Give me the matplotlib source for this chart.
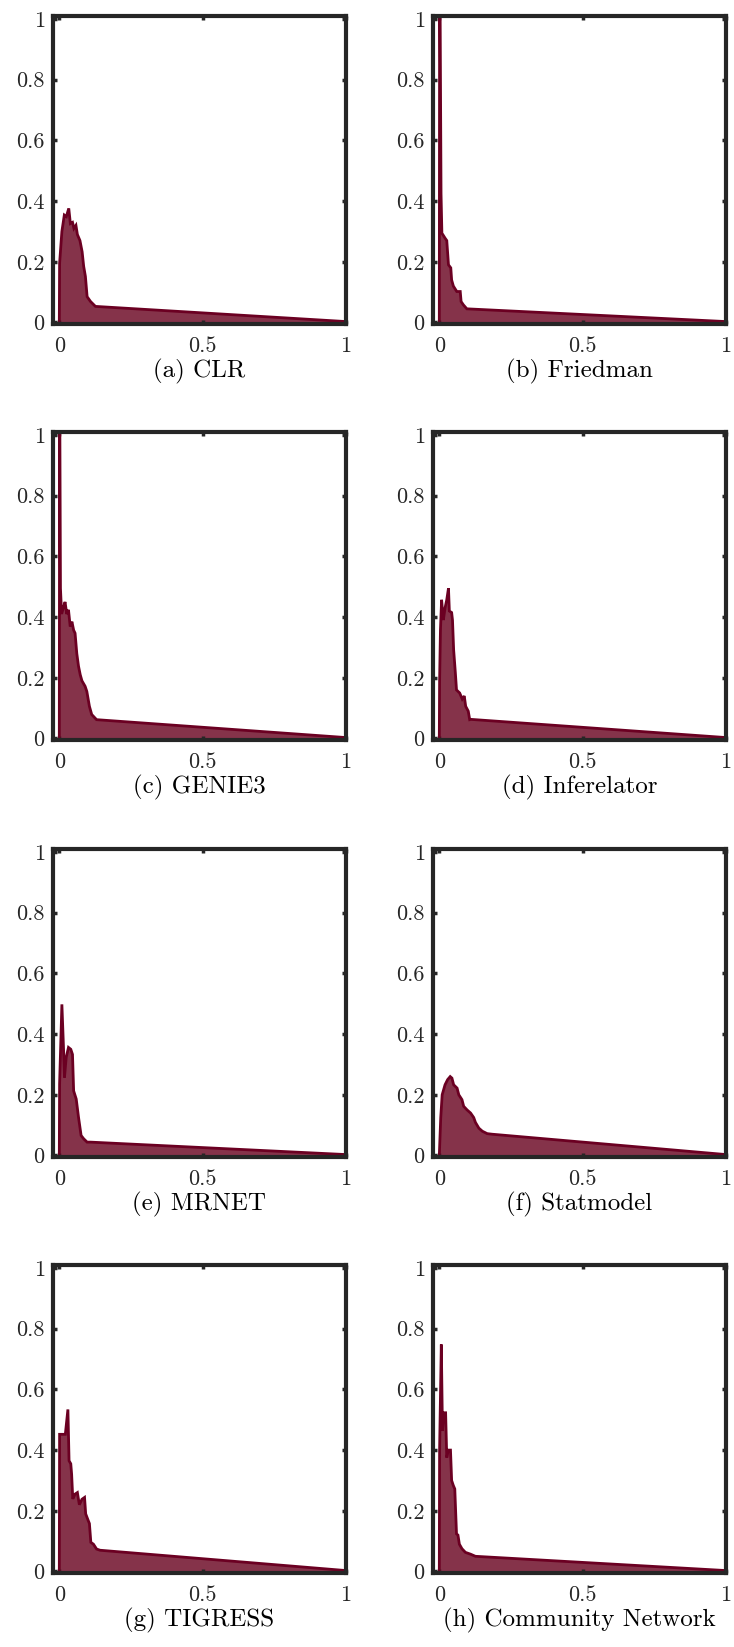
import matplotlib
matplotlib.use("Agg")
import matplotlib.pyplot as plt

plt.rcParams['font.family'] = ['cmr10', 'DejaVu Serif']
plt.rcParams['axes.formatter.use_mathtext'] = True

titles = ["(a) CLR", "(b) Friedman", "(c) GENIE3", "(d) Inferelator",
          "(e) MRNET", "(f) Statmodel", "(g) TIGRESS", "(h) Community Network"]

recall_clr = [0.0, 0.001, 0.009, 0.0175, 0.0245, 0.033, 0.0386, 0.046, 0.051, 0.058, 0.063,
              0.072, 0.0796, 0.085, 0.091, 0.097, 0.109, 0.126, 1.0]
prec_clr = [0.0, 0.195, 0.30, 0.354, 0.349, 0.376, 0.326, 0.33, 0.31, 0.32, 0.29,
            0.27, 0.233, 0.185, 0.152, 0.085, 0.069, 0.053, 0.003]

recall_friedman = [0.0, 0.001, 0.003, 0.006, 0.009, 0.012, 0.02, 0.026, 0.029, 0.032, 0.04,
                   0.043, 0.049, 0.061, 0.073, 0.076, 0.084, 0.096, 1.0]
prec_friedman = [0.0, 1.0, 1.0, 0.425, 0.294, 0.29, 0.278, 0.27, 0.23, 0.19, 0.18,
                 0.14, 0.12, 0.102, 0.102, 0.069, 0.058, 0.045, 0.003]

recall_genie3 = [0.0, 0.001, 0.002, 0.004, 0.008, 0.014, 0.02, 0.026, 0.032, 0.038, 0.044,
                 0.05, 0.055, 0.061, 0.067, 0.073, 0.079, 0.09, 0.096, 0.105, 0.113, 0.13, 1.0]
prec_genie3 = [0.0, 1.0, 1.0, 0.495, 0.41, 0.43, 0.45, 0.41, 0.424, 0.369, 0.385,
               0.357, 0.347, 0.28, 0.238, 0.21, 0.19, 0.172, 0.155, 0.106, 0.079, 0.062, 0.003]

recall_inferelator = [0.0, 0.001, 0.004, 0.008, 0.014, 0.02, 0.026, 0.032, 0.035, 0.043, 0.046,
                      0.05, 0.056, 0.06, 0.071, 0.08, 0.087, 0.092, 0.101, 0.106, 0.11, 1.0]
prec_inferelator = [0.0, 0.19, 0.358, 0.457, 0.39, 0.43, 0.457, 0.495, 0.42, 0.415, 0.39,
                    0.292, 0.216, 0.16, 0.15, 0.13, 0.14, 0.106, 0.09, 0.062, 0.063, 0.003]

recall_mrnet = [0.0, 0.001, 0.009, 0.015, 0.018, 0.024, 0.032, 0.04, 0.046, 0.05, 0.059,
                0.067, 0.076, 0.085, 0.097, 0.109, 1.0]
prec_mrnet = [0.0, 0.236, 0.498, 0.345, 0.257, 0.323, 0.356, 0.35, 0.333, 0.213, 0.186,
              0.126, 0.066, 0.055, 0.044, 0.044, 0.003]

recall_statmodel = [0.0, 0.005, 0.01, 0.02, 0.029, 0.038, 0.044, 0.05, 0.062, 0.068, 0.079,
                    0.085, 0.097, 0.109, 0.12, 0.126, 0.138, 0.15, 0.167, 0.185, 1.0]
prec_statmodel = [0.0, 0.125, 0.2, 0.233, 0.25, 0.26, 0.255, 0.233, 0.222, 0.2, 0.184,
                  0.162, 0.15, 0.14, 0.125, 0.109, 0.09, 0.08, 0.072, 0.07, 0.003]

recall_tigress = [0.0, 0.001, 0.021, 0.03, 0.034, 0.04, 0.043, 0.047, 0.055, 0.063, 0.07,
                  0.079, 0.088, 0.092, 0.1, 0.105, 0.11, 0.119, 0.13, 0.142, 1.0]
prec_tigress = [0.0, 0.452, 0.452, 0.534, 0.365, 0.355, 0.32, 0.239, 0.255, 0.26, 0.22,
                0.238, 0.244, 0.19, 0.17, 0.158, 0.096, 0.09, 0.074, 0.07, 0.003]

recall_community = [0.0, 0.001, 0.007, 0.011, 0.016, 0.022, 0.026, 0.031, 0.039, 0.043, 0.049,
                    0.054, 0.056, 0.06, 0.065, 0.07, 0.079, 0.091, 0.109, 0.126, 1.0]
prec_community = [0.0, 0.4, 0.748, 0.463, 0.523, 0.523, 0.375, 0.40, 0.40, 0.3, 0.283,
                  0.272, 0.222, 0.124, 0.12, 0.09, 0.075, 0.063, 0.057, 0.05, 0.003]

series = [(recall_clr, prec_clr), (recall_friedman, prec_friedman),
          (recall_genie3, prec_genie3), (recall_inferelator, prec_inferelator),
          (recall_mrnet, prec_mrnet), (recall_statmodel, prec_statmodel),
          (recall_tigress, prec_tigress), (recall_community, prec_community)]

xticks = [0, 0.5, 1]
xticklabels = ["0", "0.5", "1"]
yticks = [0, 0.2, 0.4, 0.6, 0.8, 1]
yticklabels = ["0", "0.2", "0.4", "0.6", "0.8", "1"]

W, H = 734, 1647
fig = plt.figure(figsize=(W / 100, H / 100), dpi=100)

col_left = [53, 433]
ax_w = 293
row_top = [16, 432, 849, 1265]
ax_h = 308

fill_color = "#85334A"
line_color = "#6B0022"
spine_color = "#262626"

for i, (rec, prec) in enumerate(series):
    r, c = divmod(i, 2)
    left = col_left[c] / W
    bottom = 1 - (row_top[r] + ax_h) / H
    ax = fig.add_axes([left, bottom, ax_w / W, ax_h / H])
    ax.fill_between(rec, prec, 0, color=fill_color, linewidth=0)
    ax.plot(rec, prec, color=line_color, linewidth=2.0, solid_joinstyle='miter')
    ax.set_xlim(-0.022, 1.0)
    ax.set_ylim(-0.005, 1.01)
    ax.set_xticks(xticks)
    ax.set_xticklabels(xticklabels)
    ax.set_yticks(yticks)
    ax.set_yticklabels(yticklabels)
    ax.tick_params(direction='in', length=3, width=2.5, color=spine_color,
                   labelsize=16, top=True, right=True, labelcolor='#262626')
    ax.tick_params(axis='x', pad=9)
    ax.tick_params(axis='y', pad=6)
    for s in ax.spines.values():
        s.set_linewidth(3.0)
        s.set_color(spine_color)
    cx = (col_left[c] + ax_w / 2) / W
    cy = 1 - (row_top[r] + ax_h + 47) / H
    fig.text(cx, cy, titles[i], ha='center', va='center', fontsize=18, color='black')

fig.savefig("out.png", dpi=100, facecolor='white')
